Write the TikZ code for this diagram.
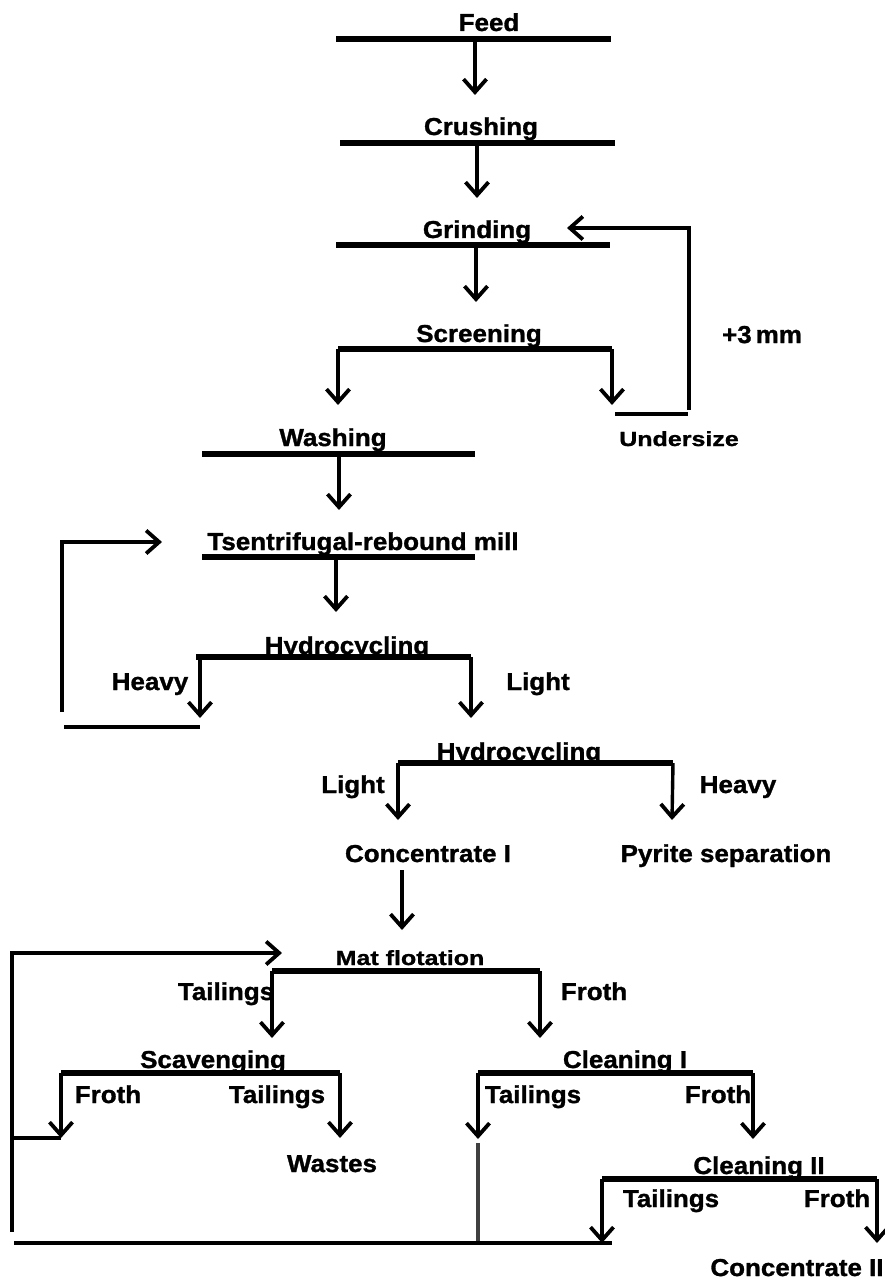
\documentclass[tikz,border=0pt]{standalone}
\usepackage{fontspec}
\setmainfont{Liberation Sans}
\newfontfamily\mainf{Liberation Sans Bold}[FakeStretch=1.06,FakeBold=1.2]
\newfontfamily\smallf{Liberation Sans Bold}[FakeStretch=1.22,FakeBold=1.2]
\usetikzlibrary{arrows.meta}
\begin{document}
\begin{tikzpicture}[x=1pt,y=-1pt,
  bar/.style={line width=5.5pt},
  flow/.style={line width=3.4pt,-{Straight Barb[length=13pt,width=23pt,line width=3.8pt]}},
  link/.style={line width=3.6pt},
  lab/.style={font=\mainf\fontsize{24.5}{24.5}\selectfont, inner sep=0pt, anchor=base},
  slab/.style={font=\smallf\fontsize{20.5}{20.5}\selectfont, inner sep=0pt, anchor=base}]
\useasboundingbox (0,0) rectangle (884,1281);

% ---------- texts ----------
\node[lab] (tfeed) at (489,31) {Feed};
\node[lab] (tcrush) at (481,135) {Crushing};
\node[lab] (tgrind) at (477,238) {Grinding};
\node[lab] (tscreen) at (479,342) {Screening};
\node[lab] (tplus) at (762,343) {+3\,mm};
\node[slab] (tunder) at (679,446) {Undersize};
\node[lab] (twash) at (333,446) {Washing};
\node[lab] (tmill) at (363,550) {Tsentrifugal-rebound mill};
\node[lab] (thyd1) at (347,654) {Hydrocycling};
\node[lab] (theavy1) at (150,690) {Heavy};
\node[lab] (tlight1) at (538,690) {Light};
\node[lab] (thyd2) at (519,760) {Hydrocycling};
\node[lab] (tlight2) at (353,793) {Light};
\node[lab] (theavy2) at (738,793) {Heavy};
\node[lab] (tconc1) at (428,862) {Concentrate I};
\node[lab] (tpyr) at (726,862) {Pyrite separation};
\node[slab] (tmat) at (410,965) {Mat flotation};
\node[lab] (ttail1) at (226,1000) {Tailings};
\node[lab] (tfroth1) at (594,1000) {Froth};
\node[lab] (tscav) at (213,1068) {Scavenging};
\node[lab] (tfroth2) at (108,1103) {Froth};
\node[lab] (ttail2) at (277,1103) {Tailings};
\node[lab] (twaste) at (332,1172) {Wastes};
\node[lab] (tclean1) at (625,1068) {Cleaning I};
\node[lab] (ttail3) at (533,1103) {Tailings};
\node[lab] (tfroth3) at (718,1103) {Froth};
\node[lab] (tclean2) at (759,1174) {Cleaning II};
\node[lab] (ttail4) at (671,1207) {Tailings};
\node[lab] (tfroth4) at (837,1207) {Froth};
\node[lab] (tconc2) at (797,1276) {Concentrate II};

% ---------- coordinates ----------
\coordinate (feedL) at (336,39);  \coordinate (feedR) at (611,39);
\coordinate (feedO) at (475,39);  \coordinate (crushI) at (475,95);
\coordinate (crushL) at (340,143); \coordinate (crushR) at (615,143);
\coordinate (crushO) at (477,143); \coordinate (grindI) at (477,198);
\coordinate (grindL) at (336,245); \coordinate (grindR) at (610,245);
\coordinate (grindO) at (476,245); \coordinate (screenI) at (476,302);
\coordinate (grindF) at (567,228);
\coordinate (screenL) at (338,349); \coordinate (screenR) at (612,349);
\coordinate (washI) at (338,405); \coordinate (underI) at (612,405);
\coordinate (underL) at (615,414); \coordinate (underR) at (688,414);
\coordinate (underO) at (689,410);
\coordinate (washL) at (202,454); \coordinate (washR) at (475,454);
\coordinate (washO) at (339,454); \coordinate (millI) at (339,510);
\coordinate (millL) at (202,557); \coordinate (millR) at (475,557);
\coordinate (millO) at (336,557); \coordinate (hyd1I) at (336,612);
\coordinate (millF) at (162,542);
\coordinate (hyd1L) at (196,657); \coordinate (hyd1R) at (471,657);
\coordinate (hyd1HO) at (200,657); \coordinate (heavyI) at (200,718);
\coordinate (hyd1LO) at (471,657); \coordinate (hyd2I) at (471,718);
\coordinate (heavyL) at (64,727); \coordinate (heavyR) at (200,727);
\coordinate (heavyO) at (62,712);
\coordinate (hyd2L) at (398,763); \coordinate (hyd2R) at (673,763);
\coordinate (conc1I) at (398,820); \coordinate (pyrI) at (672,820);
\coordinate (conc1O) at (402,870); \coordinate (matI) at (402,930);
\coordinate (matL) at (272,971); \coordinate (matR) at (540,971);
\coordinate (scavI) at (272,1038); \coordinate (clean1I) at (540,1038);
\coordinate (matF) at (282,953);
\coordinate (scavL) at (61,1073); \coordinate (scavR) at (340,1073);
\coordinate (scavFI) at (61,1138); \coordinate (wasteI) at (340,1138);
\coordinate (scavFL) at (14,1138);
\coordinate (clean1L) at (478,1073); \coordinate (clean1R) at (753,1073);
\coordinate (c1tailI) at (478,1139); \coordinate (clean2I) at (753,1139);
\coordinate (c1tailA) at (478,1143); \coordinate (c1tailB) at (478,1241);
\coordinate (clean2L) at (602,1179); \coordinate (clean2R) at (877,1179);
\coordinate (c2tailI) at (602,1243); \coordinate (conc2I) at (877,1243);
\coordinate (botL) at (14,1243); \coordinate (botR) at (612,1243);
\coordinate (recyB) at (12,1232);

% ---------- bars ----------
\draw[bar] (feedL) -- (feedR);
\draw[bar] (crushL) -- (crushR);
\draw[bar] (grindL) -- (grindR);
\draw[bar] (screenL) -- (screenR);
\draw[link] (underL) -- (underR);
\draw[bar] (washL) -- (washR);
\draw[bar] (millL) -- (millR);
\draw[bar] (hyd1L) -- (hyd1R);
\draw[link] (heavyL) -- (heavyR);
\draw[bar] (hyd2L) -- (hyd2R);
\draw[bar] (matL) -- (matR);
\draw[bar] (scavL) -- (scavR);
\draw[bar] (clean1L) -- (clean1R);
\draw[bar] (clean2L) -- (clean2R);
\draw[link] (botL) -- (botR);

% ---------- flows ----------
\draw[flow] (feedO) -- (crushI);
\draw[flow] (crushO) -- (grindI);
\draw[flow] (grindO) -- (screenI);
\draw[flow] (screenL) -- (washI);
\draw[flow] (screenR) -- (underI);
\draw[flow] (underO) |- (grindF);
\draw[flow] (washO) -- (millI);
\draw[flow] (millO) -- (hyd1I);
\draw[flow] (hyd1HO) -- (heavyI);
\draw[flow] (hyd1LO) -- (hyd2I);
\draw[flow] (heavyO) |- (millF);
\draw[flow] (hyd2L) -- (conc1I);
\draw[flow] (hyd2R) -- (pyrI);
\draw[flow] (conc1O) -- (matI);
\draw[flow] (matL) -- (scavI);
\draw[flow] (matR) -- (clean1I);
\draw[flow] (recyB) |- (matF);
\draw[flow] (scavL) -- (scavFI);
\draw[flow] (scavR) -- (wasteI);
\draw[link] (scavFL) -- (scavFI);
\draw[flow] (clean1L) -- (c1tailI);
\draw[flow] (clean1R) -- (clean2I);
\draw[line width=4pt, black!75] (c1tailA) -- (c1tailB);
\draw[flow] (clean2L) -- (c2tailI);
\draw[flow] (clean2R) -- (conc2I);
\end{tikzpicture}
\end{document}
